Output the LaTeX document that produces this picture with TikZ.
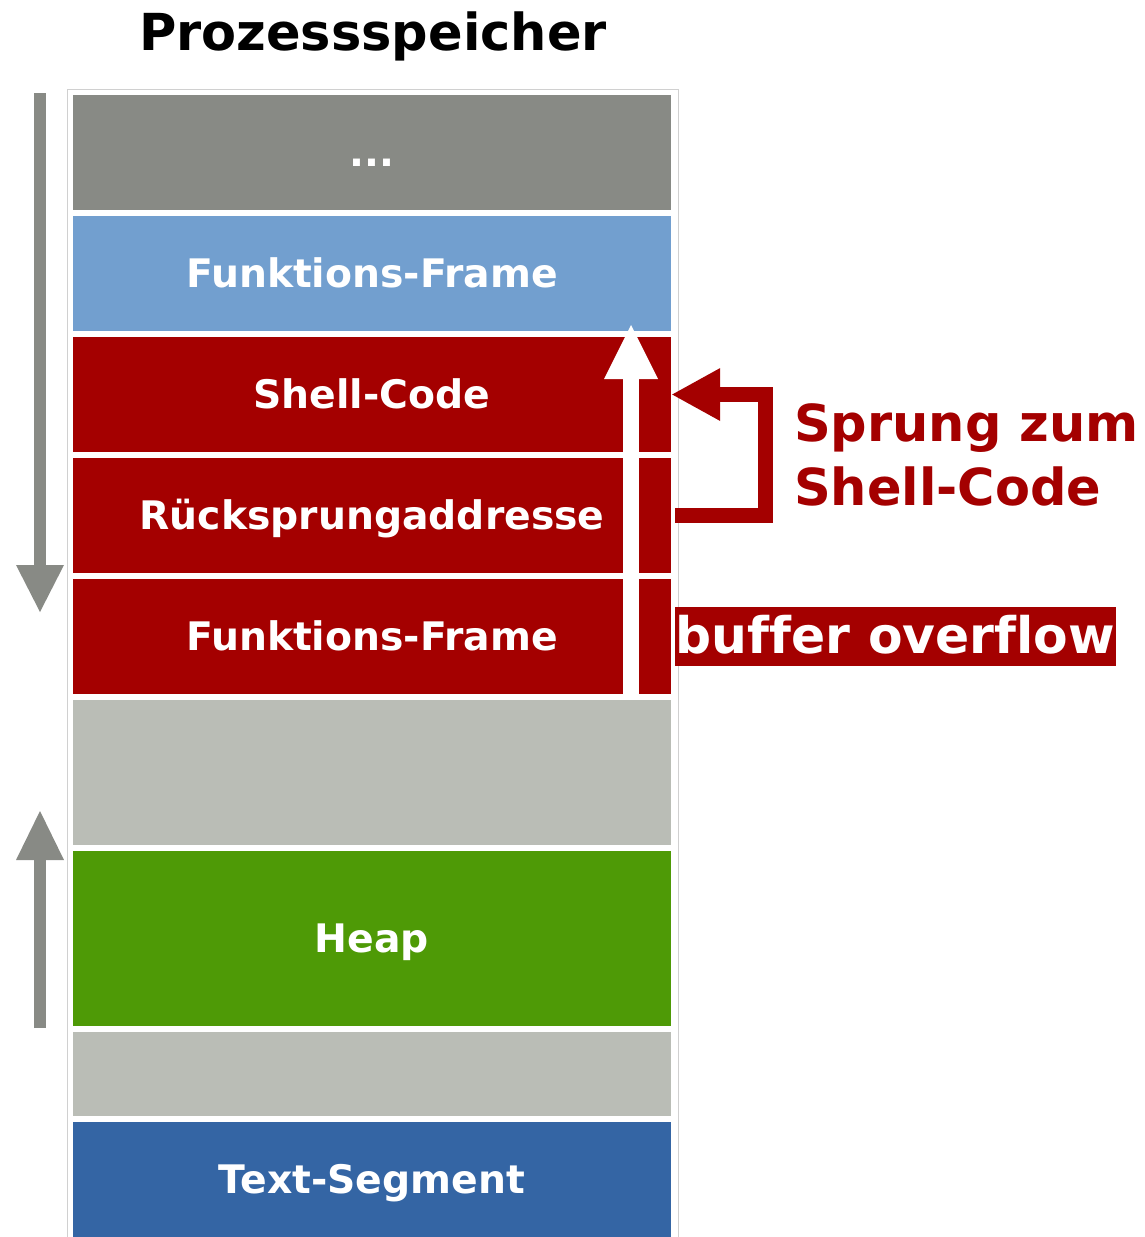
\documentclass[tikz,border=0pt]{standalone}
\usepackage{fontspec}
\setmainfont[Ligatures=CommonOff]{DejaVu Sans}
\definecolor{stackgray}{HTML}{888A85}
\definecolor{framelight}{HTML}{729FCF}
\definecolor{darkred}{HTML}{A40000}
\definecolor{freegray}{HTML}{BABDB6}
\definecolor{heapgreen}{HTML}{4E9A06}
\definecolor{textblue}{HTML}{3465A4}
\definecolor{outline}{HTML}{D0D0D0}

\begin{document}
\begin{tikzpicture}[x=1pt,y=-1pt,
  seg/.style={rectangle, inner sep=0pt, minimum width=598pt, text=white,
    font=\bfseries\fontsize{39.3}{47}\selectfont, text height=28.6pt, text depth=0pt},
  bigfont/.style={font=\bfseries\fontsize{51}{61}\selectfont},
  growarrow/.style={draw=stackgray, line width=12pt},
  growhead/.style={fill=stackgray},
  jumpline/.style={draw=darkred, line width=15pt, miter limit=10},
]
\useasboundingbox (0,0) rectangle (1144,1237);

% title
\node[bigfont, anchor=base, inner sep=0pt] (title) at (373,50) {Prozessspeicher};

% outer frame of the address space
\draw[outline, line width=1pt] (67,1245) -- (67,89.5) -- (678,89.5) -- (678,1245);

% memory segments, top (high addresses) to bottom
\node[seg, fill=stackgray,  minimum height=115pt] (b1) at (372,152.5) {...};
\node[seg, fill=framelight, minimum height=115pt] (b2) at (372,273.5) {Funktions-Frame};
\node[seg, fill=darkred,    minimum height=115pt] (b3) at (372,394.5) {Shell-Code};
\node[seg, fill=darkred,    minimum height=115pt] (b4) at (372,515.5) {Rücksprungaddresse};
\node[seg, fill=darkred,    minimum height=115pt] (b5) at (372,636.5) {Funktions-Frame};
\node[seg, fill=freegray,   minimum height=145pt] (b6) at (372,772.5) {};
\node[seg, fill=heapgreen,  minimum height=175pt] (b7) at (372,938.5) {Heap};
\node[seg, fill=freegray,   minimum height=84pt]  (b8) at (372,1074) {};
\node[seg, fill=textblue,   minimum height=115pt] (b9) at (372,1179.5) {Text-Segment};

% stack grows downwards, heap grows upwards
\coordinate (sd0) at (40,93);
\coordinate (sd1) at (40,612);
\draw[growarrow] (sd0) -- (40,566);
\fill[growhead] (16,565) -- (64,565) -- (sd1) -- cycle;

\coordinate (hu0) at (40,1028);
\coordinate (hu1) at (40,811);
\draw[growarrow] (hu0) -- (40,859);
\fill[growhead] (16,860) -- (64,860) -- (hu1) -- cycle;

% overflow: white arrow through the overwritten frames
\coordinate (ov0) at (631,694);
\coordinate (ov1) at (631,325);
\draw[white, line width=15.5pt] (ov0) -- (631,378);
\fill[white] (604,379) -- (658,379) -- (ov1) -- cycle;

% jump from the return address back to the shell code
\coordinate (jt) at ([xshift=1pt]b3.east);
\draw[jumpline] ([xshift=4pt]b4.east) -- ++(90,0) |- ([xshift=48pt]jt);
\fill[darkred] (jt) -- ++(48,-26.5) -- ++(0,53) -- cycle;

\node[bigfont, text=darkred, anchor=base west, inner sep=0pt] (lab1) at (794,441) {Sprung zum};
\node[bigfont, text=darkred, anchor=base west, inner sep=0pt] (lab2) at (794,505) {Shell-Code};

\node[font=\bfseries\fontsize{50.4}{60}\selectfont, fill=darkred, text=white, inner sep=0pt,
      minimum width=441pt, minimum height=59pt, text height=33pt, text depth=0pt]
      (bo) at (895.5,636.5) {buffer overflow};
\end{tikzpicture}
\end{document}
